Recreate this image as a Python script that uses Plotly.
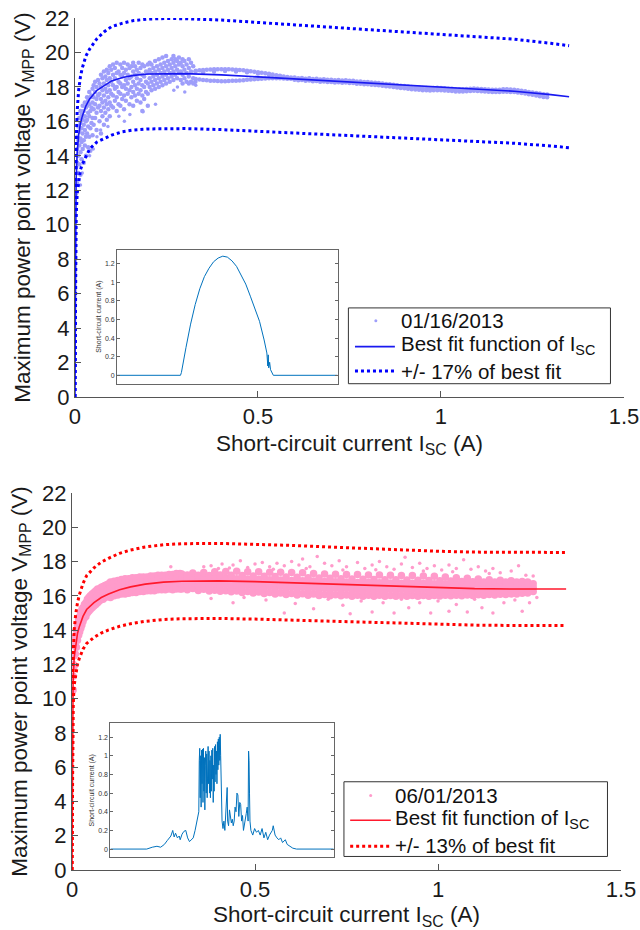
import plotly.graph_objects as go

FONT = "Liberation Sans, Arial, Helvetica, sans-serif"

# ---------------- data ----------------
X_TICKS = [0, 0.5, 1, 1.5]
X_TICK_TEXT = ["0", "0.5", "1", "1.5"]
Y_TICKS = [0, 2, 4, 6, 8, 10, 12, 14, 16, 18, 20, 22]
INSET_TICKS = [0, 0.2, 0.4, 0.6, 0.8, 1.0, 1.2]
INSET_TICK_TEXT = ["0", "0.2", "0.4", "0.6", "0.8", "1", "1.2"]

SERIES_JAN = "01/16/2013"
SERIES_JUN = "06/01/2013"
FIT_NAME = "Best fit function of I<sub>SC</sub>"
BAND_JAN = "+/- 17% of best fit"
BAND_JUN = "+/- 13% of best fit"

# best-fit curves and bands (x = short-circuit current, A)
FIT_X = [0, 0.001, 0.003, 0.006, 0.01, 0.015, 0.02, 0.03, 0.04, 0.06, 0.08, 0.1, 0.13, 0.16,
         0.2, 0.25, 0.3, 0.4, 0.5, 0.6, 0.7, 0.8, 0.9, 1.0, 1.1, 1.2, 1.3, 1.35]
JAN_FIT = [0, 9.0, 12.5, 14.2, 15.2, 15.9, 16.3, 16.9, 17.3, 17.8, 18.1, 18.35, 18.55, 18.67,
           18.75, 18.78, 18.77, 18.7, 18.58, 18.45, 18.33, 18.22, 18.1, 18.0, 17.88, 17.75, 17.55, 17.43]
JAN_UPPER = [0, 10.5, 14.6, 16.6, 17.8, 18.6, 19.1, 19.8, 20.2, 20.8, 21.2, 21.5, 21.7, 21.85,
             21.94, 21.97, 21.96, 21.88, 21.74, 21.59, 21.45, 21.32, 21.18, 21.06, 20.92, 20.77, 20.53, 20.39]
JAN_LOWER = [0, 7.5, 10.4, 11.8, 12.6, 13.2, 13.5, 14.0, 14.4, 14.8, 15.0, 15.2, 15.4, 15.5,
             15.56, 15.59, 15.58, 15.52, 15.42, 15.31, 15.21, 15.12, 15.02, 14.94, 14.84, 14.73, 14.57, 14.47]
JUN_FIT = [0, 8.0, 11.0, 12.4, 13.2, 13.8, 14.2, 14.8, 15.2, 15.6, 15.9, 16.1, 16.35, 16.52,
           16.68, 16.8, 16.85, 16.87, 16.83, 16.76, 16.68, 16.6, 16.52, 16.46, 16.42, 16.4, 16.4, 16.4]
JUN_UPPER = [0, 9.04, 12.43, 14.01, 14.92, 15.59, 16.05, 16.72, 17.18, 17.63, 17.97, 18.19, 18.48, 18.67,
             18.85, 18.98, 19.04, 19.06, 19.02, 18.94, 18.85, 18.76, 18.67, 18.6, 18.55, 18.53, 18.53, 18.53]
JUN_LOWER = [0, 6.96, 9.57, 10.79, 11.48, 12.01, 12.35, 12.88, 13.22, 13.57, 13.83, 14.01, 14.22, 14.37,
             14.51, 14.62, 14.66, 14.68, 14.64, 14.58, 14.51, 14.44, 14.37, 14.32, 14.29, 14.27, 14.27, 14.27]

# measured points, 01/16/2013: (Isc, [Vmpp values seen at that Isc])
JAN_CLOUD = [
    (0.003, [11.8, 12.6, 13.3]), (0.006, [12.4, 13.6, 14.4, 15.1]), (0.009, [13.0, 14.0, 14.9, 15.7]),
    (0.012, [13.5, 14.6, 15.4, 16.2]), (0.015, [12.9, 14.2, 15.0, 15.9, 16.6]), (0.018, [13.8, 14.8, 15.6, 16.4]),
    (0.021, [14.4, 15.3, 16.1, 16.9]), (0.024, [13.6, 14.9, 15.8, 16.6]), (0.027, [14.6, 15.5, 16.3, 17.1]),
    (0.030, [14.0, 15.1, 16.0, 16.8]), (0.033, [15.3, 16.1, 16.9, 17.4]), (0.036, [14.5, 15.7, 16.5, 17.2]),
    (0.039, [15.1, 16.3, 17.0, 17.7]), (0.042, [14.3, 15.6, 16.6, 17.4]), (0.045, [15.9, 16.8, 17.5]),
    (0.048, [15.2, 16.2, 17.1, 17.9]),
    (0.051, [15.8, 16.7, 17.4, 18.1]), (0.055, [16.2, 17.0, 17.7, 18.3]), (0.059, [15.5, 16.5, 17.3, 18.0]),
    (0.063, [16.8, 17.5, 18.4]), (0.067, [16.0, 16.9, 17.6, 18.2]), (0.071, [15.3, 16.6, 17.3, 18.0, 18.7]),
    (0.075, [16.3, 17.1, 17.8, 18.5]), (0.079, [15.8, 16.8, 17.5, 18.2, 18.9]), (0.083, [16.5, 17.2, 17.9, 18.6]),
    (0.087, [16.1, 17.0, 17.7, 18.4, 19.0]), (0.091, [16.7, 17.4, 18.1, 18.8]),
    (0.095, [16.3, 17.1, 17.8, 18.5, 19.2]), (0.099, [16.9, 17.6, 18.3, 19.0]),
    (0.104, [16.8, 17.5, 18.1, 18.7, 19.3]), (0.109, [17.2, 17.9, 18.5, 19.1]),
    (0.114, [16.6, 17.4, 18.0, 18.8, 19.4]), (0.119, [17.0, 17.7, 18.3, 18.9]),
    (0.124, [16.9, 17.6, 18.2, 18.7, 19.3]), (0.129, [17.3, 18.0, 18.6, 19.1]),
    (0.134, [16.7, 17.5, 18.1, 18.8, 19.4]), (0.139, [17.2, 17.9, 18.4, 19.0]),
    (0.144, [17.6, 18.2, 18.7, 19.3]), (0.149, [17.0, 17.8, 18.5, 19.1]),
    (0.154, [17.4, 18.0, 18.6, 19.2]), (0.159, [16.9, 17.7, 18.3, 18.9, 19.4]),
    (0.164, [17.5, 18.1, 18.7, 19.2]), (0.169, [17.2, 17.9, 18.5, 19.0]),
    (0.174, [17.6, 18.2, 18.8, 19.4]), (0.179, [17.1, 17.8, 18.4, 19.1]),
    (0.184, [16.6, 17.5, 18.1, 18.7, 19.3]), (0.189, [17.3, 18.0, 18.6, 19.2]),
    (0.194, [17.7, 18.3, 18.9]), (0.199, [16.9, 17.6, 18.2, 18.8, 19.3]),
    (0.204, [18.0, 18.5, 19.0, 19.4]), (0.209, [17.8, 18.3, 18.8, 19.3]), (0.214, [18.1, 18.6, 19.1]),
    (0.219, [17.9, 18.4, 18.9, 19.5]), (0.224, [18.2, 18.7, 19.2]), (0.229, [18.0, 18.5, 19.0, 19.6]),
    (0.234, [18.3, 18.8, 19.3]), (0.239, [18.1, 18.6, 19.1, 19.7]), (0.244, [18.4, 18.9, 19.4]),
    (0.249, [18.2, 18.7, 19.2, 19.8]), (0.254, [18.5, 19.0, 19.5]), (0.259, [18.3, 18.8, 19.3]),
    (0.264, [18.6, 19.1, 19.6]), (0.269, [18.4, 18.9, 19.4, 19.8]), (0.274, [18.7, 19.2, 19.6]),
    (0.279, [18.5, 19.0, 19.5]), (0.284, [18.8, 19.3, 19.7]), (0.289, [18.4, 18.9, 19.4]),
    (0.294, [18.2, 18.7, 19.2, 19.6]), (0.299, [18.5, 19.0, 19.5]), (0.305, [18.3, 18.8, 19.3]),
    (0.311, [18.2, 18.6, 19.1, 19.6]), (0.317, [18.3, 18.9, 19.4]), (0.323, [18.2, 18.5, 19.2]),
    (0.329, [18.3, 18.9]),
    (0.33, [18.46, 18.94]), (0.34, [18.43, 18.96]), (0.35, [18.4, 18.85, 18.98]), (0.36, [18.38, 19.0]),
    (0.37, [18.36, 19.01]), (0.38, [18.35, 18.9, 19.02]), (0.39, [18.34, 19.03]), (0.40, [18.33, 19.03]),
    (0.41, [18.33, 18.92, 19.03]), (0.42, [18.34, 19.02]), (0.43, [18.35, 19.01]), (0.44, [18.36, 18.9, 19.0]),
    (0.45, [18.37, 18.98]), (0.46, [18.39, 18.96]), (0.47, [18.41, 18.85, 18.94]), (0.48, [18.43, 18.91]),
    (0.49, [18.45, 18.88]), (0.50, [18.46, 18.78, 18.85]), (0.51, [18.47, 18.82]), (0.52, [18.49, 18.79]),
    (0.53, [18.5, 18.7, 18.76]), (0.54, [18.5, 18.72]), (0.55, [18.5, 18.68]), (0.56, [18.5, 18.62, 18.65]),
    (0.57, [18.49, 18.61]), (0.58, [18.48, 18.58]), (0.59, [18.47, 18.55]),
    (0.60, [18.42, 18.55]), (0.61, [18.38, 18.5]), (0.62, [18.40, 18.52]), (0.63, [18.36, 18.48]),
    (0.64, [18.37, 18.5]), (0.65, [18.33, 18.46]), (0.66, [18.34, 18.47]), (0.67, [18.30, 18.43]),
    (0.68, [18.31, 18.44]), (0.69, [18.28, 18.41]), (0.70, [18.29, 18.42]), (0.71, [18.26, 18.39]),
    (0.72, [18.27, 18.40]), (0.73, [18.24, 18.37]), (0.74, [18.25, 18.38]), (0.75, [18.22, 18.35]),
    (0.76, [18.22, 18.35]), (0.77, [18.19, 18.32]), (0.78, [18.19, 18.32]), (0.79, [18.16, 18.29]),
    (0.80, [18.15, 18.28]), (0.81, [18.13, 18.26]), (0.82, [18.11, 18.24]), (0.83, [18.09, 18.22]),
    (0.84, [18.07, 18.2]), (0.85, [18.04, 18.17]), (0.86, [18.02, 18.15]), (0.87, [17.99, 18.12]),
    (0.88, [17.97, 18.1]), (0.89, [17.94, 18.07]), (0.90, [17.92, 18.05]), (0.91, [17.89, 18.02]),
    (0.92, [17.87, 18.0]), (0.93, [17.85, 17.98]), (0.94, [17.83, 17.96]), (0.95, [17.81, 17.94]),
    (0.96, [17.80, 17.93]), (0.97, [17.79, 17.92]), (0.98, [17.80, 17.94]), (0.99, [17.81, 17.95]),
    (1.00, [17.80, 17.94]), (1.01, [17.79, 17.92]), (1.02, [17.77, 17.9]), (1.03, [17.76, 17.89]),
    (1.04, [17.74, 17.87]), (1.05, [17.73, 17.86]), (1.06, [17.74, 17.87]), (1.07, [17.75, 17.88]),
    (1.08, [17.76, 17.9]), (1.09, [17.77, 17.91]), (1.10, [17.76, 17.9]), (1.11, [17.75, 17.88]),
    (1.12, [17.73, 17.86]), (1.13, [17.72, 17.85]), (1.14, [17.71, 17.84]), (1.15, [17.70, 17.83]),
    (1.16, [17.71, 17.84]), (1.17, [17.72, 17.86]), (1.18, [17.72, 17.86]), (1.19, [17.71, 17.85]),
    (1.20, [17.70, 17.84]), (1.21, [17.67, 17.81]), (1.22, [17.64, 17.78]), (1.23, [17.61, 17.75]),
    (1.24, [17.58, 17.71]), (1.25, [17.54, 17.68]), (1.26, [17.50, 17.65]), (1.27, [17.46, 17.62]),
    (1.28, [17.42, 17.58]), (1.29, [17.40, 17.56]),
]
JAN_SPARSE_X = [0.015, 0.02, 0.04, 0.05, 0.06, 0.07, 0.09, 0.12, 0.135, 0.15, 0.186, 0.22, 0.27, 0.28, 0.3, 0.33]
JAN_SPARSE_Y = [12.3, 13.0, 14.0, 14.4, 15.1, 15.5, 15.7, 16.3, 16.0, 16.4, 16.56, 17.0, 17.8, 18.0, 17.7, 18.1]

# measured points, 06/01/2013
JUN_CLOUD = [
    (0.003, [10.5, 11.3, 12.0]), (0.006, [11.9, 12.5, 13.1]), (0.009, [12.6, 13.1, 13.6]),
    (0.012, [13.0, 13.5, 14.0]), (0.015, [13.4, 13.9, 14.3]), (0.018, [13.7, 14.1, 14.6]),
    (0.021, [13.9, 14.4, 14.8]), (0.024, [14.1, 14.6, 15.0]), (0.027, [14.3, 14.8, 15.2]),
    (0.030, [14.5, 14.9, 15.3]), (0.034, [14.7, 15.1, 15.5]), (0.038, [14.8, 15.2, 15.6]),
    (0.042, [15.0, 15.4, 15.8]), (0.046, [15.1, 15.5, 15.9]), (0.050, [15.2, 15.6, 16.0]),
    (0.055, [15.3, 15.7, 16.1]), (0.060, [15.4, 15.8, 16.2]), (0.065, [15.5, 15.9, 16.3]),
    (0.070, [15.6, 16.0, 16.4]), (0.075, [15.7, 16.1, 16.4]), (0.080, [15.8, 16.15, 16.5]),
    (0.085, [15.8, 16.2, 16.55]), (0.090, [15.9, 16.3, 16.6]), (0.095, [15.95, 16.3, 16.65]),
    (0.100, [16.0, 16.4, 16.7]),
    (0.105, [15.9, 16.25, 16.55, 16.8]), (0.115, [16.0, 16.35, 16.65, 16.85]),
    (0.125, [16.05, 16.4, 16.7, 16.9]), (0.135, [16.1, 16.45, 16.75, 16.95]),
    (0.145, [16.1, 16.5, 16.8, 17.0]), (0.155, [16.15, 16.5, 16.8, 17.0]),
    (0.165, [16.2, 16.55, 16.85, 17.05]), (0.175, [16.2, 16.6, 16.9, 17.05]),
    (0.185, [16.25, 16.6, 16.9, 17.1]), (0.195, [16.25, 16.6, 16.9, 17.1]),
    (0.205, [16.3, 16.65, 16.95, 17.1]), (0.215, [16.3, 16.65, 16.95, 17.15]),
    (0.225, [16.3, 16.7, 17.0, 17.15]), (0.235, [16.35, 16.7, 17.0, 17.2]),
    (0.245, [16.35, 16.7, 17.0, 17.2]), (0.255, [16.35, 16.7, 17.0, 17.2]),
    (0.265, [16.4, 16.75, 17.05, 17.25]), (0.275, [16.35, 16.7, 17.05, 17.25]),
    (0.285, [16.4, 16.75, 17.05, 17.3]), (0.295, [16.4, 16.75, 17.1, 17.3]),
    (0.300, [16.40, 16.72, 17.00, 17.28]), (0.315, [16.36, 16.62, 16.92, 17.22]),
    (0.330, [16.42, 16.75, 17.05, 17.33]), (0.345, [16.31, 16.60, 16.90, 17.20]),
    (0.360, [16.38, 16.70, 17.02, 17.36]), (0.375, [16.28, 16.58, 16.88, 17.18]),
    (0.390, [16.33, 16.68, 17.04, 17.40]), (0.405, [16.26, 16.55, 16.86, 17.22]),
    (0.420, [16.30, 16.66, 17.02, 17.42]), (0.435, [16.23, 16.52, 16.84, 17.20]),
    (0.450, [16.28, 16.64, 17.00, 17.44]), (0.465, [16.20, 16.50, 16.82, 17.18]),
    (0.480, [16.25, 16.62, 16.98, 17.40]), (0.495, [16.17, 16.48, 16.80, 17.16]),
    (0.510, [16.22, 16.58, 16.96, 17.40]), (0.525, [16.14, 16.45, 16.78, 17.14]),
    (0.540, [16.20, 16.56, 16.94, 17.38]), (0.555, [16.11, 16.42, 16.76, 17.12]),
    (0.570, [16.17, 16.54, 16.92, 17.38]), (0.585, [16.08, 16.40, 16.74, 17.10]),
    (0.600, [16.14, 16.52, 16.90, 17.36]), (0.615, [16.05, 16.38, 16.72, 17.08]),
    (0.630, [16.12, 16.50, 16.88, 17.34]), (0.645, [16.04, 16.36, 16.70, 17.06]),
    (0.660, [16.10, 16.48, 16.86, 17.30]), (0.675, [16.02, 16.34, 16.68, 17.04]),
    (0.690, [16.08, 16.46, 16.84, 17.28]), (0.705, [16.00, 16.32, 16.66, 17.02]),
    (0.720, [16.06, 16.44, 16.82, 17.26]), (0.735, [16.00, 16.30, 16.64, 17.00]),
    (0.750, [16.05, 16.42, 16.80, 17.25]), (0.765, [15.98, 16.30, 16.62, 16.98]),
    (0.780, [16.04, 16.40, 16.78, 17.24]), (0.795, [15.98, 16.28, 16.60, 16.96]),
    (0.810, [16.03, 16.40, 16.77, 17.22]), (0.825, [15.98, 16.28, 16.60, 16.95]),
    (0.840, [16.03, 16.39, 16.76, 17.22]), (0.855, [15.98, 16.27, 16.58, 16.94]),
    (0.870, [16.02, 16.38, 16.75, 17.20]), (0.885, [15.98, 16.27, 16.58, 16.93]),
    (0.900, [16.02, 16.38, 16.74, 17.19]), (0.915, [15.98, 16.26, 16.57, 16.92]),
    (0.930, [16.02, 16.37, 16.73, 17.18]), (0.945, [15.98, 16.26, 16.56, 16.91]),
    (0.960, [16.02, 16.37, 16.72, 17.16]), (0.975, [15.98, 16.25, 16.55, 16.90]),
    (0.990, [16.02, 16.36, 16.71, 17.14]), (1.005, [15.99, 16.25, 16.54, 16.88]),
    (1.020, [16.03, 16.36, 16.70, 17.10]), (1.035, [16.00, 16.26, 16.54, 16.86]),
    (1.050, [16.04, 16.36, 16.68, 17.06]), (1.065, [16.01, 16.27, 16.54, 16.84]),
    (1.080, [16.05, 16.36, 16.67, 17.02]), (1.095, [16.02, 16.28, 16.54, 16.82]),
    (1.110, [16.06, 16.36, 16.66, 16.98]), (1.125, [16.04, 16.29, 16.54, 16.80]),
    (1.140, [16.08, 16.36, 16.64, 16.94]), (1.155, [16.05, 16.30, 16.55, 16.80]),
    (1.170, [16.09, 16.37, 16.64, 16.91]), (1.185, [16.07, 16.31, 16.56, 16.80]),
    (1.200, [16.11, 16.38, 16.64, 16.88]), (1.215, [16.10, 16.33, 16.57, 16.80]),
    (1.230, [16.15, 16.40, 16.63, 16.84]), (1.245, [16.16, 16.38, 16.60, 16.80]),
    (1.260, [16.25, 16.48, 16.70]),
]
JUN_SPARSE_X = [0.27, 0.36, 0.38, 0.40, 0.41, 0.44, 0.46, 0.48, 0.5, 0.52, 0.54, 0.56, 0.58, 0.6, 0.62,
                0.63, 0.65, 0.67, 0.69, 0.71, 0.73, 0.75, 0.78, 0.8, 0.82, 0.84, 0.86, 0.88, 0.9, 0.91,
                0.93, 0.95, 0.97, 0.99, 1.01, 1.03, 1.05, 1.07, 1.09, 1.11, 1.13, 1.15, 1.17, 1.2, 1.22,
                1.24, 1.26, 0.43, 0.55, 0.64, 0.74, 0.83, 0.96, 1.04, 1.14,
                0.38, 0.44, 0.47, 0.53, 0.58, 0.61, 0.66, 0.7, 0.74, 0.76, 0.79, 0.82, 0.85, 0.88, 0.9,
                0.92, 0.95, 0.98, 1.0, 1.03, 1.05, 1.08, 1.1, 1.12, 1.15, 1.18, 1.21, 1.23, 1.25, 1.27]
JUN_SPARSE_Y = [17.7, 17.7, 17.75, 17.6, 17.85, 17.8, 18.05, 17.65, 17.85, 17.95, 17.7, 17.9, 17.75, 18.0, 17.8,
                18.15, 17.7, 18.3, 17.9, 17.75, 18.05, 17.7, 17.95, 17.6, 17.8, 18.0, 17.7, 17.55, 17.85, 18.25,
                17.65, 17.9, 17.6, 17.75, 17.5, 17.8, 17.6, 18.1, 17.55, 17.7, 17.45, 17.6, 17.35, 17.45, 17.75,
                17.2, 17.15, 17.62, 17.55, 17.6, 17.5, 17.52, 17.45, 17.4, 17.3,
                15.85, 15.6, 15.9, 15.75, 15.0, 15.55, 15.25, 15.8, 15.45, 14.95, 15.7, 15.05, 15.6, 15.0, 15.8,
                15.3, 15.6, 15.0, 15.7, 15.1, 15.5, 15.05, 15.8, 15.3, 15.0, 15.6, 15.75, 15.1, 15.6, 15.9]

# insets: short-circuit current over the day (hour of day, A)
JAN_HOURS = [0, 6.9, 7.0, 7.2, 7.5, 8.0, 8.5, 9.0, 9.5, 10.0, 10.5, 11.0, 11.5, 12.0, 12.5, 13.0,
             13.5, 14.0, 14.5, 15.0, 15.5, 16.0, 16.3, 16.4, 16.45, 16.5, 16.6, 16.7, 16.9, 17.0, 24]
JAN_ISC = [0, 0, 0.03, 0.15, 0.3, 0.55, 0.76, 0.93, 1.06, 1.15, 1.22, 1.26, 1.28, 1.27, 1.23, 1.17,
           1.08, 0.98, 0.85, 0.72, 0.58, 0.38, 0.24, 0.1, 0.22, 0.08, 0.14, 0.06, 0.02, 0, 0]
JUN_HOURS = [0, 3.9, 4.5, 5.0, 5.4, 5.8, 6.1, 6.3, 6.5, 6.7, 6.85, 7.0, 7.2, 7.4, 7.5, 7.7, 7.9, 8.1,
             8.3, 8.5, 8.7, 8.9, 9.1, 9.3, 9.45,
             9.50, 9.55, 9.60, 9.65, 9.70, 9.75, 9.80, 9.85, 9.90, 9.95, 10.0, 10.05, 10.1, 10.15, 10.2,
             10.25, 10.3, 10.35, 10.4, 10.45, 10.5, 10.55, 10.6, 10.65, 10.7, 10.75, 10.8, 10.85, 10.9,
             10.95, 11.0, 11.05, 11.1, 11.15, 11.2, 11.25, 11.3, 11.35, 11.4, 11.45, 11.5, 11.55, 11.6,
             11.65, 11.7, 11.75, 11.8, 11.85, 11.9, 11.95, 12.0,
             12.1, 12.2, 12.3, 12.4, 12.5, 12.55, 12.6, 12.7, 12.8, 12.9, 13.0, 13.1, 13.2, 13.3, 13.4,
             13.5, 13.6, 13.7, 13.8, 13.9, 14.0, 14.1, 14.2, 14.3, 14.4, 14.5, 14.6, 14.7, 14.8, 14.85,
             14.9, 14.95, 15.0, 15.1, 15.3, 15.5, 15.7, 15.9, 16.1, 16.3, 16.5, 16.7, 16.9, 17.1,
             17.4, 17.5, 17.7, 17.9, 18.1, 18.3, 18.5, 18.8, 19.0, 19.3, 19.6, 20.0, 24]
JUN_ISC = [0, 0, 0.02, 0.03, 0.02, 0.05, 0.09, 0.12, 0.14, 0.2, 0.13, 0.17, 0.12, 0.14, 0.1, 0.16, 0.19, 0.2,
           0.12, 0.08, 0.1, 0.12, 0.2, 0.3, 0.35,
           0.40, 0.95, 1.08, 0.55, 1.0, 0.45, 1.06, 0.7, 1.07, 0.5, 1.08, 0.62, 0.98, 0.42, 0.9,
           1.05, 0.6, 1.02, 0.55, 0.98, 1.1, 0.7, 1.05, 0.6, 0.95, 0.55, 1.0, 0.62, 1.06,
           0.75, 1.08, 0.5, 0.9, 0.62, 1.1, 0.72, 1.12, 0.8, 1.05, 0.7, 1.15, 0.85, 1.18,
           0.9, 1.2, 0.95, 1.23, 1.0, 0.6, 0.35, 0.3,
           0.22, 0.3, 0.2, 0.38, 0.6, 0.66, 0.3, 0.25, 0.42, 0.35, 0.28, 0.32, 0.25, 0.3, 0.45,
           0.4, 0.6, 0.58, 0.35, 0.5, 0.48, 0.3, 0.36, 0.2, 0.28, 0.3, 0.38, 0.45, 0.3, 1.05,
           0.95, 0.6, 0.3, 0.2, 0.15, 0.22, 0.18, 0.2, 0.15, 0.22, 0.12, 0.18, 0.1, 0.15,
           0.2, 0.25, 0.15, 0.12, 0.1, 0.12, 0.07, 0.1, 0.05, 0.03, 0.01, 0, 0]


def expand(cloud):
    xs = [x for x, ys in cloud for _ in ys]
    ys = [y for _, vals in cloud for y in vals]
    return xs, ys


JAN_X, JAN_Y = expand(JAN_CLOUD)
JUN_X, JUN_Y = expand(JUN_CLOUD)

fig = go.Figure()


def add_panel(xa, ya, sx, sy, cx, cy, fit, up, lo, date, band, dot_col, fit_col, line_col, core_size):
    fig.add_trace(go.Scatter(x=sx, y=sy, mode="markers", name=date, showlegend=False,
                             marker=dict(color=dot_col, size=3.5), xaxis=xa, yaxis=ya))
    fig.add_trace(go.Scatter(x=cx, y=cy, mode="markers", name=date, showlegend=False,
                             marker=dict(color=dot_col, size=core_size), xaxis=xa, yaxis=ya))
    fig.add_trace(go.Scatter(x=FIT_X, y=fit, mode="lines", name=FIT_NAME, showlegend=False,
                             line=dict(color=fit_col, width=1.6), xaxis=xa, yaxis=ya))
    for vals in (up, lo):
        fig.add_trace(go.Scatter(x=FIT_X, y=vals, mode="lines", name=band, showlegend=False,
                                 line=dict(color=line_col, width=3, dash="dot"), xaxis=xa, yaxis=ya))


JAN_DOT, JAN_LINE, JAN_BAND = "rgb(158,158,250)", "rgb(25,25,240)", "rgb(0,0,255)"
JUN_DOT, JUN_LINE, JUN_BAND = "rgb(255,155,203)", "rgb(255,25,45)", "rgb(255,0,0)"

add_panel("x", "y", JAN_SPARSE_X, JAN_SPARSE_Y, JAN_X, JAN_Y, JAN_FIT, JAN_UPPER, JAN_LOWER,
          SERIES_JAN, BAND_JAN, JAN_DOT, JAN_LINE, JAN_BAND, 4.5)
add_panel("x2", "y2", JUN_SPARSE_X, JUN_SPARSE_Y, JUN_X, JUN_Y, JUN_FIT, JUN_UPPER, JUN_LOWER,
          SERIES_JUN, BAND_JUN, JUN_DOT, JUN_LINE, JUN_BAND, 7.5)

fig.add_trace(go.Scatter(x=JAN_HOURS, y=JAN_ISC, mode="lines", showlegend=False,
                         line=dict(color="#0072BD", width=1), xaxis="x3", yaxis="y3"))
fig.add_trace(go.Scatter(x=JUN_HOURS, y=JUN_ISC, mode="lines", showlegend=False,
                         line=dict(color="#0072BD", width=1), xaxis="x4", yaxis="y4"))

# ---------------- legends (boxed, inside each panel) ----------------
shapes, annotations = [], []
LEG_FONT = dict(size=20.5, color="#111111")


def add_legend(xr, yr, box, dot_xy, line_x, line_y, band_y, text_x, text_ys,
               labels, dot_col, fit_col, band_col):
    x0, x1, y0, y1 = box
    shapes.append(dict(type="rect", xref=xr, yref=yr, x0=x0, x1=x1, y0=y0, y1=y1,
                       line=dict(color="#333333", width=1), fillcolor="white", layer="above"))
    shapes.append(dict(type="circle", xref=xr, yref=yr, xsizemode="pixel", ysizemode="pixel",
                       xanchor=dot_xy[0], yanchor=dot_xy[1], x0=-1.5, x1=1.5, y0=-1.5, y1=1.5,
                       fillcolor=dot_col, line=dict(width=0), layer="above"))
    shapes.append(dict(type="line", xref=xr, yref=yr, x0=line_x[0], x1=line_x[1], y0=line_y, y1=line_y,
                       line=dict(color=fit_col, width=1.6), layer="above"))
    shapes.append(dict(type="line", xref=xr, yref=yr, x0=line_x[0], x1=line_x[1], y0=band_y, y1=band_y,
                       line=dict(color=band_col, width=3, dash="dot"), layer="above"))
    for txt, ty in zip(labels, text_ys):
        annotations.append(dict(text=txt, xref=xr, yref=yr, x=text_x, y=ty, xanchor="left",
                                yanchor="middle", showarrow=False, font=LEG_FONT))


add_legend("x", "y", (0.747, 1.463, 0.77, 5.17), (0.822, 4.42), (0.765, 0.874), 2.92, 1.51,
           0.884, (4.43, 3.0, 1.47), (SERIES_JAN, FIT_NAME, BAND_JAN), JAN_DOT, JAN_LINE, JAN_BAND)
add_legend("x2", "y2", (0.743, 1.463, 0.79, 5.15), (0.816, 4.35), (0.76, 0.871), 2.9, 1.39,
           0.878, (4.35, 2.98, 1.45), (SERIES_JUN, FIT_NAME, BAND_JUN), JUN_DOT, JUN_LINE, JUN_BAND)

AX = "#555555"
TXT = "#1a1a1a"


def main_x(domain, anchor):
    return dict(domain=domain, anchor=anchor, range=[0, 1.5], tickvals=X_TICKS, ticktext=X_TICK_TEXT,
                ticks="inside", ticklen=6, tickcolor=AX, showline=True, linecolor=AX, linewidth=1,
                showgrid=False, zeroline=False, tickfont=dict(size=22, color=TXT), automargin=False,
                title=dict(text="Short-circuit current I<sub>SC</sub> (A)", font=dict(size=22.5, color=TXT),
                           standoff=6))


def main_y(domain, anchor):
    return dict(domain=domain, anchor=anchor, range=[0, 22], tickvals=Y_TICKS,
                ticks="inside", ticklen=6, tickcolor=AX, showline=True, linecolor=AX, linewidth=1,
                showgrid=False, zeroline=False, tickfont=dict(size=22, color=TXT), automargin=False,
                title=dict(text="Maximum power point voltage V<sub>MPP</sub> (V)",
                           font=dict(size=22.5, color=TXT), standoff=8))


def inset_x(domain, anchor):
    return dict(domain=domain, anchor=anchor, range=[0, 24], showticklabels=False, ticks="",
                showline=True, mirror=True, linecolor="#666", linewidth=1, showgrid=False,
                zeroline=False, automargin=False)


def inset_y(domain, anchor):
    return dict(domain=domain, anchor=anchor, range=[-0.09, 1.35], tickvals=INSET_TICKS,
                ticktext=INSET_TICK_TEXT, ticks="inside", ticklen=3, tickcolor="#666",
                showline=True, mirror="ticks", linecolor="#666", linewidth=1, showgrid=False,
                zeroline=False, tickfont=dict(size=7, color="#333"), automargin=False,
                title=dict(text="Short-circuit current (A)", font=dict(size=7, color="#333"), standoff=2))


fig.update_layout(
    width=640, height=930,
    margin=dict(l=72, r=16, t=18, b=60),
    paper_bgcolor="white", plot_bgcolor="white",
    font=dict(family=FONT, color=TXT),
    showlegend=False,
    xaxis=main_x([0.0054, 1.0], "y"),
    yaxis=main_y([0.5552, 1.0], "x"),
    xaxis2=main_x([0.0, 0.9946], "y2"),
    yaxis2=main_y([0.0, 0.4425], "x2"),
    xaxis3=inset_x([0.0817, 0.4812], "y3"),
    yaxis3=inset_y([0.5708, 0.7281], "x3"),
    xaxis4=inset_x([0.0696, 0.4741], "y4"),
    yaxis4=inset_y([0.0147, 0.1724], "x4"),
    shapes=shapes,
    annotations=annotations,
)

fig.write_html("out.html", config={"displayModeBar": False},
               post_script="document.body.style.margin='0';document.body.style.padding='0';")
